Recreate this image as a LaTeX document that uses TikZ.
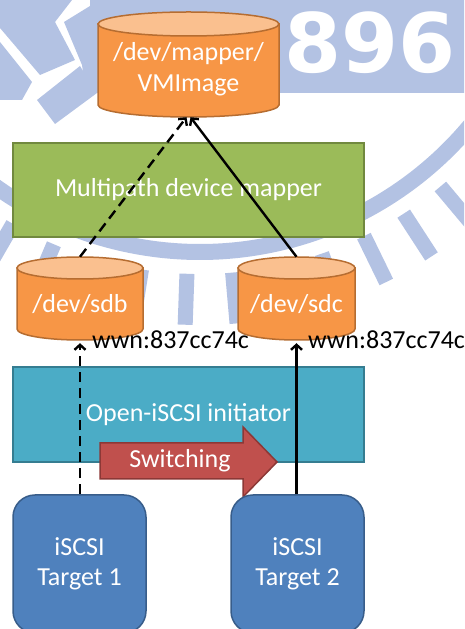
\documentclass[tikz,border=0pt]{standalone}
\usepackage{fontspec}
\setmainfont{Carlito}
\newfontfamily\wmfont{DejaVu Sans}
\usetikzlibrary{arrows.meta}
\definecolor{wm}{HTML}{B3C2E3}
\definecolor{orfill}{HTML}{F79646}
\definecolor{ordraw}{HTML}{B66D31}
\definecolor{ortop}{HTML}{FAC08F}
\definecolor{grfill}{HTML}{9BBB59}
\definecolor{grdraw}{HTML}{71893F}
\definecolor{cyfill}{HTML}{4BACC6}
\definecolor{cydraw}{HTML}{357D91}
\definecolor{rdfill}{HTML}{C0504D}
\definecolor{rddraw}{HTML}{8C3836}
\definecolor{blfill}{HTML}{4F81BD}
\definecolor{bldraw}{HTML}{385D8A}
\newcommand\cylshape[5]{%
  \filldraw[cylbody] ({#1-#2},#3) -- ({#1-#2},#4) arc[start angle=180,end angle=360,x radius=#2pt,y radius=#5pt] -- ({#1+#2},#3) -- cycle;
  \filldraw[cyltop] (#1,#3) ellipse[x radius=#2pt,y radius=#5pt];
}
\tikzset{
  cylbody/.style={fill=orfill,draw=ordraw,line width=1.5pt},
  cyltop/.style={fill=ortop,draw=ordraw,line width=1.5pt},
  cyltext/.style={inner sep=0pt,text=white,font=\fontsize{26}{30}\selectfont,align=center},
  layerbox/.style={inner sep=0pt,text=white,font=\fontsize{26}{30}\selectfont,align=center,line width=1.5pt},
  target/.style={inner sep=0pt,text=white,font=\fontsize{26}{30}\selectfont,align=center,line width=1.5pt,
    fill=blfill,draw=bldraw,rounded corners=22pt,minimum width=133pt,minimum height=138pt},
  wwn/.style={inner sep=0pt,text=black,font=\fontsize{26}{30}\selectfont,anchor=west},
  conn/.style={line width=2.4pt,black,-{Straight Barb[length=5pt,width=11pt]}},
  dashconn/.style={conn,dash pattern=on 10pt off 6pt},
}
\begin{document}
\begin{tikzpicture}[x=1pt,y=1pt]
\useasboundingbox (0,0) rectangle (464,629);
% watermark background
\begin{scope}
  \clip (0,0) rectangle (464,629);
  \fill[wm] (64,607) -- (90,623) -- (90,629) -- (464,629) -- (464,536) -- (86,536) -- (82,564) -- cycle;
  \fill[wm] (0,629) -- (72,629) -- (55,607) -- (75,569) -- (40,554) -- (0,601) -- cycle;
  \fill[wm] (0,587) -- (32,547) -- (22,529) -- (0,529) -- cycle;
  \fill[wm] (37,529) -- (80,563) -- (97,536) -- (55,505) -- cycle;
  \node[text=white,font=\wmfont\bfseries\fontsize{82}{82}\selectfont,inner sep=0pt] (wm896) at (370,586.5) {896};
  \draw[wm,line width=16pt] (200,729) ++(-135:352pt) arc[start angle=-135,end angle=-30,radius=352pt];
  \foreach \a in {-134,-127,...,-30} {
    \draw[wm,line width=15pt,shift={(200,729)}] (\a:374pt) -- (\a:425pt);
  }
\end{scope}
% cylinders
\cylshape{188.5}{90.5}{605}{524}{12}
\node[cyltext,minimum width=181pt,minimum height=93pt] (vm) at (188.5,558.5) {\raisebox{-3pt}{\begin{tabular}{@{}c@{}}/dev/mapper/\\[1pt]VMImage\end{tabular}}};
\node[layerbox,fill=grfill,draw=grdraw,minimum width=351pt,minimum height=94pt] (mp) at (188.5,439) {\raisebox{-2pt}{Multipath device mapper}};
\cylshape{80}{63}{361}{300}{11}
\node[cyltext,minimum width=126pt,minimum height=72pt] (sdb) at (80,325) {\raisebox{-2pt}{/dev/sdb}};
\cylshape{296.5}{58.5}{361}{300}{11}
\node[cyltext,minimum width=117pt,minimum height=72pt] (sdc) at (296.5,325) {\raisebox{-2pt}{/dev/sdc}};
\node[wwn] (w1) at (92,289) {wwn:837cc74c};
\node[wwn] (w2) at (308,289) {wwn:837cc74c};
\node[layerbox,fill=cyfill,draw=cydraw,minimum width=351pt,minimum height=95pt] (init) at (188.5,214.5) {Open-iSCSI initiator};
\filldraw[fill=rdfill,draw=rddraw,line width=1.5pt] (100,186) -- (243,186) -- (243,202) -- (277,167) -- (243,132) -- (243,150) -- (100,150) -- cycle;
\node[cyltext] (sw) at (180,168) {Switching};
\node[target] (t1) at (79.5,65) {iSCSI\\Target 1};
\node[target] (t2) at (297.5,65) {iSCSI\\Target 2};
% connectors
\draw[dashconn] (sdb.south |- t1.north) -- ([yshift=-3pt]sdb.south);
\draw[conn] (sdc.south |- t2.north) -- ([yshift=-3pt]sdc.south);
\draw[dashconn] ([yshift=11pt]sdb.north) -- ([xshift=-2pt]vm.south);
\draw[conn] ([yshift=11pt]sdc.north) -- ([xshift=2pt]vm.south);
\end{tikzpicture}
\end{document}
